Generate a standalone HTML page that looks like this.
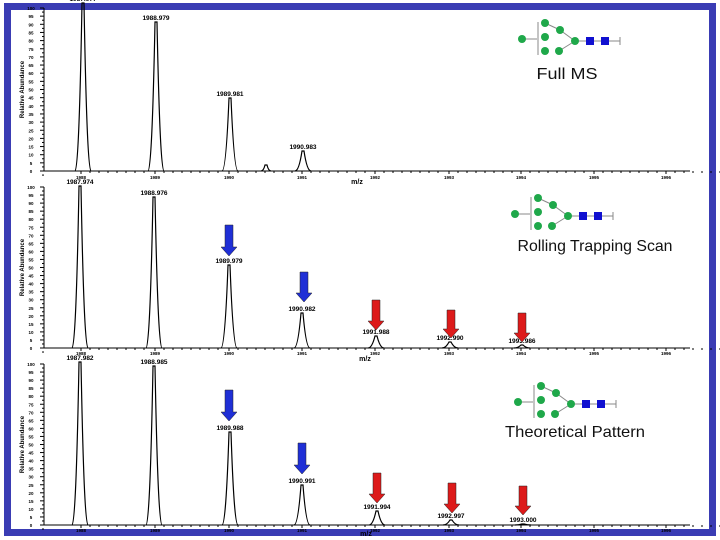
<!DOCTYPE html>
<html><head><meta charset="utf-8"><style>
html,body{margin:0;padding:0;background:#fff;width:720px;height:540px;overflow:hidden}
svg{display:block}
</style></head><body>
<svg id="s" width="720" height="540" xmlns="http://www.w3.org/2000/svg" font-family="Liberation Sans, sans-serif">
<rect x="0" y="0" width="720" height="540" fill="#fff"/>
<rect x="7.5" y="6.5" width="705" height="526" fill="none" stroke="#3a3cb4" stroke-width="7"/>
<g id="g"></g>
<g font-family="Liberation Sans, sans-serif" fill="#111" text-anchor="middle">
<text x="567" y="79" font-size="16" textLength="61" lengthAdjust="spacingAndGlyphs">Full MS</text>
<text x="595" y="251" font-size="16" textLength="155" lengthAdjust="spacingAndGlyphs">Rolling Trapping Scan</text>
<text x="575" y="437" font-size="16" textLength="140" lengthAdjust="spacingAndGlyphs">Theoretical Pattern</text>
</g>
</svg>
<script>
var g=document.getElementById('g'),h='';
function L(x1,y1,x2,y2,c,w){h+='<line x1="'+x1+'" y1="'+y1+'" x2="'+x2+'" y2="'+y2+'" stroke="'+(c||'#000')+'" stroke-width="'+(w||1)+'"/>';}
function T(x,y,t,s,extra){h+='<text x="'+x+'" y="'+y+'" font-size="'+(s||6)+'" font-weight="bold" text-anchor="middle" '+(extra||'')+'>'+t+'</text>';}
function peak(x,base,top,w){h+='<path d="M'+(x-w)+' '+base+' Q'+(x-w*0.5)+' '+base+' '+(x-1)+' '+top+' L'+(x+1)+' '+top+' Q'+(x+w*0.5)+' '+base+' '+(x+w)+' '+base+'" fill="none" stroke="#000" stroke-width="1.2"/>';}
function arrow(x,y1,y2,c){h+='<path d="M'+(x-4)+' '+y1+' h8 v'+(y2-y1-9)+' h4 l-8 9 l-8 -9 h4 z" fill="'+c+'" stroke="#222" stroke-width="0.5"/>';}
function glycan(x0,y0){var c='#1fa84a';
 L(x0,y0,x0+15,y0,'#888');L(x0+16,y0-17,x0+16,y0+16,'#888');
 L(x0+23,y0-16,x0+38,y0-9,'#888');L(x0+38,y0-9,x0+53,y0+2,'#888');L(x0+37,y0+12,x0+53,y0+2,'#888');L(x0+53,y0+2,x0+98,y0+2,'#888');
 [[23,-16],[23,-2],[23,12],[38,-9],[37,12],[53,2],[0,0]].forEach(function(p){h+='<circle cx="'+(x0+p[0])+'" cy="'+(y0+p[1])+'" r="4" fill="'+c+'"/>';});
 h+='<rect x="'+(x0+64)+'" y="'+(y0-2)+'" width="8" height="8" fill="#1010d0"/><rect x="'+(x0+79)+'" y="'+(y0-2)+'" width="8" height="8" fill="#1010d0"/>';
 L(x0+98,y0-2,x0+98,y0+6,'#888');}
function panel(base,top,peaks,xl,mzY,mzX){
 L(44,top,44,base);L(44,base,690,base);
 for(var i=0;i<=20;i++){var y=base-(base-top)*i/20;L(40,y,44,y);L(42,y+(base-top)/40,44,y+(base-top)/40);T(31,y+2,(i*5),4.5);}
 var xs=[81,155,229,302,375,449,521,594,666];
 xs.forEach(function(x,k){L(x,base,x,base+3);T(x,xl,(1988+k),4.5);for(var j=1;j<8;j++){L(x+j*9,base,x+j*9,base+2);}});
 T(mzX,mzY,'m/z',7);
 peaks.forEach(function(p){peak(p[0],base,p[1],p[3]||8);if(p[2])T(p[0],p[1]-2,p[2],6.5);});
 h+='<text transform="translate(24,'+((base+top)/2)+') rotate(-90)" font-size="6" font-weight="bold" text-anchor="middle">Relative Abundance</text>';
}
panel(171,8,[[83,3,'1987.977'],[156,22,'1988.979'],[230,98,'1989.981'],[266,165,'',5],[303,151,'1990.983']],179,184,357);
panel(348,187,[[80,186,'1987.974'],[154,197,'1988.976'],[229,265,'1989.979'],[302,313,'1990.982'],[376,336,'1991.988'],[450,342,'1992.990'],[522,345,'1993.986']],355,361,365);
panel(525,364,[[80,362,'1987.982'],[154,366,'1988.985'],[230,432,'1989.988'],[302,485,'1990.991'],[377,511,'1991.994'],[451,520,'1992.997'],[523,524,'1993.000']],532,536,366);
arrow(229,225,256,'#1f2fd6');arrow(304,272,302,'#1f2fd6');
arrow(376,300,330,'#dd1a1a');arrow(451,310,338,'#dd1a1a');arrow(522,313,342,'#dd1a1a');
arrow(229,390,421,'#1f2fd6');arrow(302,443,474,'#1f2fd6');
arrow(377,473,503,'#dd1a1a');arrow(452,483,513,'#dd1a1a');arrow(523,486,515,'#dd1a1a');
glycan(522,39);glycan(515,214);glycan(518,402);
g.innerHTML=h;
</script>
</body></html>
